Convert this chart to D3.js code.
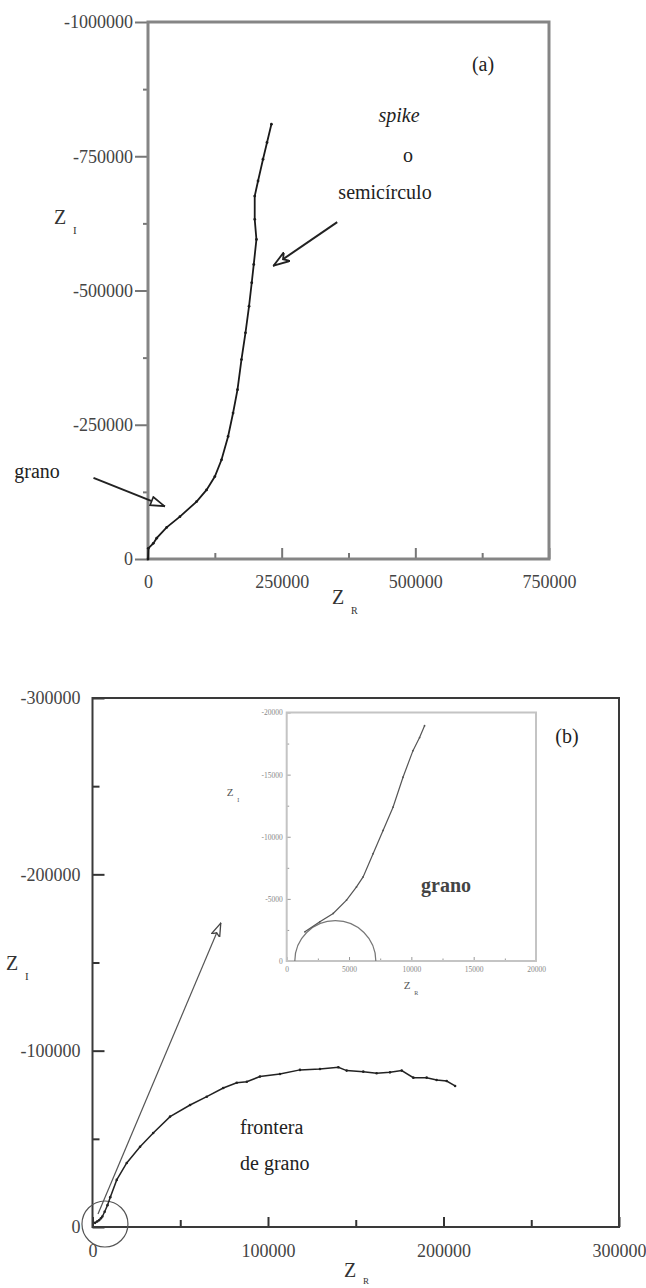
<!DOCTYPE html>
<html>
<head>
<meta charset="utf-8">
<script src="https://cdn.jsdelivr.net/npm/d3@7/dist/d3.min.js"></script>
<style>
  html, body { margin: 0; padding: 0; background: #fff; }
  svg { display: block; font-family: "Liberation Serif", "Times New Roman", serif; }
</style>
</head>
<body>
<div id="chart"></div>
<script>
// Panel (a) - full impedance spectrum (Z_R, Z_I)
var aZr = [0, 560, 9890, 16230, 34900, 59700, 90900, 109500, 125000, 137500, 149800, 159100,
           167400, 174800, 182300, 189000, 194000, 197800, 202800, 199600, 199600, 205800,
           215100, 222600, 230800];
var aZi = [0, -19960, -29100, -38800, -58800, -78900, -106900, -128700, -153500, -184700, -228200, -271800,
           -315300, -371300, -421100, -470700, -514400, -548500, -595100, -632500, -675900, -703900,
           -744400, -775600, -809700];

// Panel (b) - zoom on the grain boundary arc
var bZr = [1460, 2660, 3730, 4800, 5600, 6930, 8530, 10130, 13800, 19500, 27100, 34600, 44200,
           55600, 65100, 74500, 82200, 87900, 95400, 106800, 118200, 129600, 140100, 144800,
           154300, 161900, 169500, 176200, 182800, 190400, 196100, 201800, 206600];
var bZi = [-2350, -3150, -3830, -4900, -5960, -8640, -12380, -16930, -26700, -36300, -45500, -53300, -62600,
           -69200, -73900, -78800, -81800, -82400, -85300, -86800, -89100, -89600, -90600, -88700,
           -88100, -87200, -87700, -88700, -84700, -84700, -83400, -82800, -80000];

// Inset - grain semicircle
var inZr = [1460, 2660, 3730, 4800, 5600, 6130, 6930, 7730, 8530, 9330, 10130, 10660, 11060];
var inZi = [-2350, -3150, -3830, -4900, -5960, -6770, -8640, -10510, -12380, -14790, -16930, -17980, -18940];
var arcCenter = 3900, arcRadius = 3250;

// ticks
var aXTicks = [0, 250000, 500000, 750000];
var aXLabels = ["0", "250000", "500000", "750000"];
var aXMinor = [125000, 375000, 625000];
var aYTicks = [0, -250000, -500000, -750000, -1000000];
var aYLabels = ["0", "-250000", "-500000", "-750000", "-1000000"];
var aYMinor = [-125000, -375000, -625000, -875000];

var bXTicks = [0, 100000, 200000, 300000];
var bXLabels = ["0", "100000", "200000", "300000"];
var bXMinor = [50000, 150000, 250000];
var bYTicks = [0, -100000, -200000, -300000];
var bYLabels = ["0", "-100000", "-200000", "-300000"];
var bYMinor = [-50000, -150000, -250000];

var inXTicks = [0, 5000, 10000, 15000, 20000];
var inXLabels = ["0", "5000", "10000", "15000", "20000"];
var inXMinor = [2500, 7500, 12500, 17500];
var inYTicks = [0, -5000, -10000, -15000, -20000];
var inYLabels = ["0", "-5000", "-10000", "-15000", "-20000"];
var inYMinor = [-2500, -7500, -12500, -17500];

var W = 646, H = 1288;
var svg = d3.select("#chart").append("svg").attr("width", W).attr("height", H);

var defs = svg.append("defs");
defs.append("marker").attr("id", "hollow")
    .attr("viewBox", "0 0 14 10").attr("refX", 14).attr("refY", 5)
    .attr("markerWidth", 16).attr("markerHeight", 11)
    .attr("markerUnits", "userSpaceOnUse").attr("orient", "auto")
  .append("path").attr("d", "M1,1 L13.5,5 L1,9 Z")
    .attr("fill", "#fff").attr("stroke", "#222").attr("stroke-width", 1.5);
defs.append("marker").attr("id", "notch")
    .attr("viewBox", "0 0 14 10").attr("refX", 14).attr("refY", 5)
    .attr("markerWidth", 17).attr("markerHeight", 12)
    .attr("markerUnits", "userSpaceOnUse").attr("orient", "auto")
  .append("path").attr("d", "M0,0.5 L13.5,5 L0,9.5 L4,5 Z")
    .attr("fill", "#fff").attr("stroke", "#222").attr("stroke-width", 1.5);
defs.append("marker").attr("id", "thin")
    .attr("viewBox", "0 0 14 10").attr("refX", 14).attr("refY", 5)
    .attr("markerWidth", 14).attr("markerHeight", 10)
    .attr("markerUnits", "userSpaceOnUse").attr("orient", "auto")
  .append("path").attr("d", "M0,0.5 L13.5,5 L0,9.5 L3,5 Z")
    .attr("fill", "#fff").attr("stroke", "#444").attr("stroke-width", 1.3);

function axes(g, x, y, o) {
  var y0 = y.range()[0], x0 = x.range()[0];
  var xa = g.append("g").attr("transform", "translate(0," + y0 + ")")
    .call(d3.axisBottom(x).tickValues(o.xt).tickFormat(function(d, i) { return o.xl[i]; })
      .tickSize(o.xSize).tickPadding(o.xPad));
  var xm = g.append("g").attr("transform", "translate(0," + y0 + ")")
    .call(d3.axisBottom(x).tickValues(o.xm).tickFormat("").tickSize(o.xMinor));
  var ya = g.append("g").attr("transform", "translate(" + x0 + ",0)")
    .call(d3.axisLeft(y).tickValues(o.yt).tickFormat(function(d, i) { return o.yl[i]; })
      .tickSize(o.ySize).tickPadding(o.yPad));
  var ym = g.append("g").attr("transform", "translate(" + x0 + ",0)")
    .call(d3.axisLeft(y).tickValues(o.ym).tickFormat("").tickSize(o.yMinor));
  [xa, xm, ya, ym].forEach(function(a) {
    a.select(".domain").remove();
    a.attr("font-family", null).attr("font-size", o.font);
    a.selectAll("line").attr("stroke", o.tickColor).attr("stroke-width", o.tickWidth);
    a.selectAll("text").attr("fill", o.textColor);
  });
  g.append("rect")
    .attr("x", x.range()[0]).attr("y", y.range()[1])
    .attr("width", x.range()[1] - x.range()[0]).attr("height", y.range()[0] - y.range()[1])
    .attr("fill", "none").attr("stroke", o.frame).attr("stroke-width", o.frameWidth);
}

// letter with a subscript (axis titles)
function sub(g, x, y, main, s, size, subSize, color, drop) {
  g.append("text").attr("x", x).attr("y", y).attr("font-size", size)
    .attr("fill", color).attr("text-anchor", "middle").text(main);
  g.append("text").attr("x", x + size * 0.65).attr("y", y + (drop == null ? size * 0.5 : drop))
    .attr("font-size", subSize).attr("fill", color).text(s);
}

function curve(g, xs, ys, x, y, color, width, r) {
  var pts = xs.map(function(v, i) { return [v, ys[i]]; });
  g.append("path").datum(pts)
    .attr("d", d3.line().x(function(d) { return x(d[0]); }).y(function(d) { return y(d[1]); }))
    .attr("fill", "none").attr("stroke", color).attr("stroke-width", width);
  g.selectAll(null).data(pts).enter().append("circle")
    .attr("cx", function(d) { return x(d[0]); }).attr("cy", function(d) { return y(d[1]); })
    .attr("r", r).attr("fill", color);
}

// ---------- panel (a)
var ga = svg.append("g");
var xa = d3.scaleLinear().domain([0, 750000]).range([148, 549]);
var ya = d3.scaleLinear().domain([0, -1000000]).range([559, 22]);
axes(ga, xa, ya, {
  xt: aXTicks, xl: aXLabels, xm: aXMinor, xSize: -11, xMinor: -6, xPad: 16,
  yt: aYTicks, yl: aYLabels, ym: aYMinor, ySize: 13, yMinor: 5, yPad: 2,
  font: 18, tickColor: "#777", tickWidth: 2, textColor: "#444",
  frame: "#858585", frameWidth: 3
});
curve(ga, aZr, aZi, xa, ya, "#1a1a1a", 1.8, 1.4);

ga.append("text").attr("x", 483).attr("y", 71).attr("font-size", 20).attr("text-anchor", "middle")
  .attr("fill", "#222").text("(a)");
ga.append("text").attr("x", 399).attr("y", 122).attr("font-size", 20).attr("font-style", "italic")
  .attr("text-anchor", "middle").attr("fill", "#222").text("spike");
ga.append("text").attr("x", 408).attr("y", 162).attr("font-size", 20).attr("text-anchor", "middle")
  .attr("fill", "#222").text("o");
ga.append("text").attr("x", 385).attr("y", 199).attr("font-size", 20).attr("text-anchor", "middle")
  .attr("fill", "#222").text("semicírculo");
ga.append("text").attr("x", 37).attr("y", 478).attr("font-size", 20).attr("text-anchor", "middle")
  .attr("fill", "#222").text("grano");
sub(ga, 60, 224, "Z", "I", 20, 11, "#333");
sub(ga, 338, 604, "Z", "R", 20, 10, "#333");

// arrows of panel (a), in data units
ga.append("line")
  .attr("x1", xa(353900)).attr("y1", ya(-627400)).attr("x2", xa(234000)).attr("y2", ya(-545600))
  .attr("stroke", "#222").attr("stroke-width", 2).attr("marker-end", "url(#notch)");
ga.append("line")
  .attr("x1", xa(-101900)).attr("y1", ya(-151000)).attr("x2", xa(31700)).attr("y2", ya(-98000))
  .attr("stroke", "#222").attr("stroke-width", 2).attr("marker-end", "url(#hollow)");

// ---------- panel (b)
var gb = svg.append("g");
var xb = d3.scaleLinear().domain([0, 300000]).range([92.5, 619]);
var yb = d3.scaleLinear().domain([0, -300000]).range([1227, 698]);
axes(gb, xb, yb, {
  xt: bXTicks, xl: bXLabels, xm: bXMinor, xSize: -10, xMinor: -7, xPad: 17,
  yt: bYTicks, yl: bYLabels, ym: bYMinor, ySize: -12, yMinor: -7, yPad: 12,
  font: 18, tickColor: "#333", tickWidth: 2, textColor: "#444",
  frame: "#3a3a3a", frameWidth: 2
});

// guide arrow and circle around the zoomed region
gb.append("line")
  .attr("x1", xb(3130)).attr("y1", yb(-7370)).attr("x2", xb(73200)).attr("y2", yb(-172600))
  .attr("stroke", "#555").attr("stroke-width", 1.2).attr("marker-end", "url(#thin)");
gb.append("circle").attr("cx", xb(7100)).attr("cy", yb(-1700))
  .attr("r", xb(13100) - xb(0)).attr("fill", "none").attr("stroke", "#555").attr("stroke-width", 1.2);

curve(gb, bZr, bZi, xb, yb, "#222", 1.5, 1.3);

gb.append("text").attr("x", 567).attr("y", 743).attr("font-size", 20).attr("text-anchor", "middle")
  .attr("fill", "#222").text("(b)");
gb.append("text").attr("x", 240).attr("y", 1134).attr("font-size", 20).attr("fill", "#222").text("frontera");
gb.append("text").attr("x", 240).attr("y", 1170).attr("font-size", 20).attr("fill", "#222").text("de grano");
sub(gb, 12, 970, "Z", "I", 20, 11, "#333");
sub(gb, 350, 1277, "Z", "R", 20, 9, "#333", 7);

// ---------- inset
var gi = svg.append("g");
var xi = d3.scaleLinear().domain([0, 20000]).range([286.7, 536]);
var yi = d3.scaleLinear().domain([0, -20000]).range([961, 712.5]);
gi.append("rect").attr("x", 286.7).attr("y", 712.5).attr("width", 536 - 286.7).attr("height", 961 - 712.5)
  .attr("fill", "#fff");
axes(gi, xi, yi, {
  xt: inXTicks, xl: inXLabels, xm: inXMinor, xSize: -4, xMinor: -2.5, xPad: 6,
  yt: inYTicks, yl: inYLabels, ym: inYMinor, ySize: -4, yMinor: -2.5, yPad: 4,
  font: 7.5, tickColor: "#999", tickWidth: 1, textColor: "#888",
  frame: "#c4c4c4", frameWidth: 2
});
gi.append("path")
  .attr("d", "M" + xi(arcCenter - arcRadius) + "," + yi(0) +
    " A" + (xi(arcRadius) - xi(0)) + "," + (yi(0) - yi(-arcRadius)) + " 0 0 1 " +
    xi(arcCenter + arcRadius) + "," + yi(0))
  .attr("fill", "none").attr("stroke", "#777").attr("stroke-width", 1.2);
curve(gi, inZr, inZi, xi, yi, "#555", 1.2, 0.9);

gi.append("text").attr("x", 446).attr("y", 892).attr("font-size", 20).attr("font-weight", "bold")
  .attr("text-anchor", "middle").attr("fill", "#444").text("grano");
sub(gi, 230, 796, "Z", "I", 11, 6, "#555");
sub(gi, 407, 989, "Z", "R", 11, 6, "#555");
</script>
</body>
</html>
